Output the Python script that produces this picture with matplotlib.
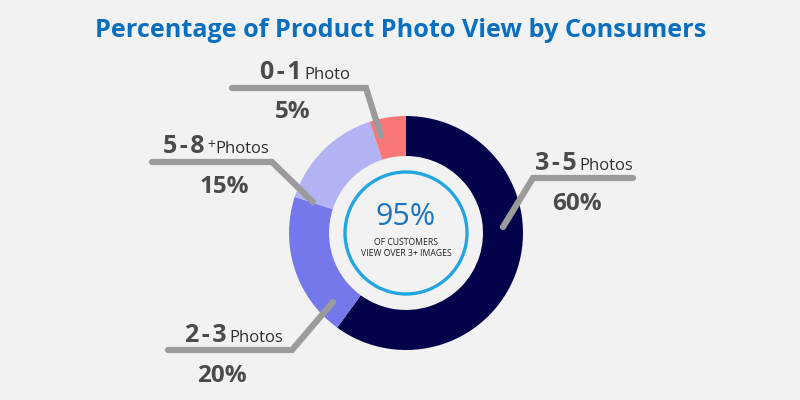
import matplotlib.pyplot as plt

# data
labels = ["3-5", "2-3", "5-8", "0-1"]
units = ["Photos", "Photos", "Photos", "Photo"]
shares = [60, 20, 15, 5]
colors = ["#03034b", "#7478ea", "#b1b3f3", "#f87777"]

H = 400  # picture height in px, used to flip y


def Y(y):
    return H - y


fig = plt.figure(figsize=(8, 4), dpi=100)
fig.patch.set_facecolor("#f2f2f2")
ax = fig.add_axes([0, 0, 1, 1])
ax.set_facecolor("#f2f2f2")

# donut
cx, cy = 406, 233
ax.pie(shares, colors=colors, startangle=90, counterclock=False,
       center=(cx, Y(cy)), radius=117,
       wedgeprops=dict(width=40, linewidth=0))

# blue ring in the middle
ring = plt.Circle((cx, Y(cy)), 61, fill=False, edgecolor="#23a6e0", linewidth=2.4)
ax.add_patch(ring)

ax.set_xlim(0, 800)
ax.set_ylim(0, 400)
ax.set_aspect("equal")
ax.axis("off")

font = ["Open Sans", "DejaVu Sans"]
dark = "#4b4b4b"

# leader lines (px coords)
leaders = [
    [(503, 227), (533, 178), (633, 178)],
    [(333, 302), (292, 350), (168, 350)],
    [(313, 202), (272, 162), (152, 162)],
    [(381, 136), (366, 88), (232, 88)],
]
for pts in leaders:
    xs = [p[0] for p in pts]
    ys = [Y(p[1]) for p in pts]
    ax.plot(xs, ys, color="#9b9b9b", linewidth=4.5, solid_capstyle="round",
            solid_joinstyle="miter")

renderer = fig.canvas.get_renderer()


def right_edge(t):
    # x of a text's right side, in data (= px) units
    bb = t.get_window_extent(renderer)
    return ax.transData.inverted().transform((bb.x1, bb.y0))[0]


# label positions: (num x, baseline y, pct x, pct baseline)
pos = [
    (535, 170, 552, 210),
    (185, 342, 197, 382),
    (163, 153, 200, 193),
    (260, 79, 275, 118),
]
for lab, unit, pct, (nx, by, px, pby) in zip(labels, units, shares, pos):
    num = lab.replace("-", "\u200a-\u200a")
    t = ax.text(nx, Y(by), num, fontsize=18, fontweight="bold", color=dark,
                family=font, ha="left", va="baseline")
    ux = right_edge(t) + 2.5
    if lab == "5-8":
        plus = ax.text(ux, Y(by - 4), "+", fontsize=10, color="#2f2f2f",
                       family=font, ha="left", va="baseline")
        ux = right_edge(plus) + 0.5
    ax.text(ux, Y(by), unit, fontsize=12, color="#2f2f2f",
            family=font, ha="left", va="baseline")
    ax.text(px, Y(pby), f"{pct}%", fontsize=17.5, fontweight="bold", color=dark,
            family=font, ha="left", va="baseline")

# center text
ax.text(cx, Y(225), "95%", fontsize=22, color="#1b74bd", family=font,
        ha="center", va="baseline")
ax.text(cx, Y(245), "OF CUSTOMERS", fontsize=6.2, color="#222222", family=font,
        ha="center", va="baseline")
ax.text(cx, Y(256), "VIEW OVER 3+ IMAGES", fontsize=6.2, color="#222222",
        family=font, ha="center", va="baseline")

# title
ax.text(401, Y(37), "Percentage of Product Photo View by Consumers",
        fontsize=18.2, fontweight="bold", color="#0b6fc0", family=font,
        ha="center", va="baseline")

fig.savefig("out.png", dpi=100, facecolor=fig.get_facecolor())
